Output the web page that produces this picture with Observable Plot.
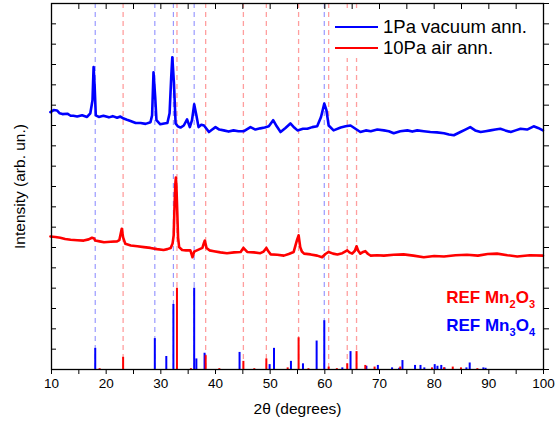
<!DOCTYPE html>
<html><head><meta charset="utf-8">
<script src="https://cdn.jsdelivr.net/npm/d3@7"></script>
<script src="https://cdn.jsdelivr.net/npm/@observablehq/plot@0.6"></script>
<style>
body{margin:0;background:#fff;font-family:"Liberation Sans",Arial,sans-serif}
#wrap{position:relative;width:558px;height:425px;overflow:hidden}
#legend{position:absolute;left:332px;top:12px;width:208px;height:46px;background:#fff}
.row{position:absolute;left:0;height:22px;line-height:22px;font-size:18.5px;white-space:nowrap;color:#000}
.row .sw{position:absolute;left:3px;top:10px;width:43px;height:2px}
.row .tx{position:absolute;left:51px;top:0}
.ref{position:absolute;right:23px;font-weight:bold;font-size:17px;line-height:20px;white-space:nowrap}
.ref sub{font-size:11px;vertical-align:-5px;line-height:0}
</style></head><body><div id="wrap"></div>
<script>
// 1Pa vacuum annealed pattern (2θ in degrees, intensity arb. units)
const blueT = [9.8,10.4,11.0,11.5,12.0,12.9,13.5,14.0,14.7,15.6,16.5,17.1,17.5,17.7,17.9,18.1,18.65,19.5,20.5,21.2,22.0,22.6,23.2,23.8,24.45,25.4,26.3,27.2,28.1,28.4,28.66,28.97,29.2,29.9,30.6,31.2,31.6,31.9,32.1,32.4,32.7,33.1,33.6,34.2,34.8,35.3,35.7,36.1,36.5,36.9,37.4,37.9,38.8,39.4,40.0,40.7,41.5,42.4,43.3,44.2,45.2,46.4,47.3,48.2,49.0,49.75,50.55,51.2,51.9,52.8,53.7,54.4,55.0,56.0,56.8,57.7,58.6,59.3,59.9,60.3,60.7,61.6,62.9,63.8,64.7,65.6,66.5,67.5,68.4,69.6,70.8,71.7,72.6,73.8,75.1,76.0,76.9,78.1,79.3,80.5,81.8,82.7,83.6,84.8,85.7,86.6,87.5,88.5,89.4,90.3,91.2,92.1,93.0,94.0,94.9,95.8,97.0,98.2,99.0,99.9];
const blueV = [633,638,637,630,628,629,624,624,622,625,621,630,662,744,694,625,621,624,620,623,619,622,617,614,611,606,606,604,608,625,731,670,613,603,605,606,630,719,768,704,605,598,595,600,615,596,613,652,625,596,602,600,584,590,596,590,588,585,588,586,586,596,590,593,595,598,613,598,584,594,605,595,588,592,592,596,598,621,654,637,600,588,595,598,600,592,584,588,586,590,588,586,581,586,588,585,588,586,584,583,581,578,576,584,590,596,588,584,586,588,590,592,588,584,588,592,590,598,594,588];
// 10Pa air annealed pattern
const redT = [9.8,10.7,11.6,12.5,13.5,14.7,15.9,16.8,17.4,17.8,18.0,18.8,19.6,20.8,22.0,22.4,22.6,22.85,23.1,23.5,24.5,25.7,26.9,28.1,29.3,30.5,31.2,31.8,32.15,32.35,32.5,32.65,32.75,32.85,33.0,33.15,33.35,33.9,34.6,35.4,35.8,36.1,36.6,37.1,37.6,37.9,38.05,38.35,38.9,39.7,40.9,42.1,43.4,44.6,45.1,45.8,47.0,48.2,48.8,49.3,49.7,50.1,51.3,52.5,53.4,54.3,54.9,55.2,55.5,55.8,56.2,57.4,58.6,59.5,60.1,60.7,61.5,62.3,63.2,64.1,64.5,65.0,65.5,65.8,66.1,66.5,67.0,67.4,67.9,68.4,69.6,70.8,72.6,74.4,76.2,78.1,80.0,81.8,83.9,86.0,88.0,89.8,91.5,93.4,95.2,97.5,99.9];
const redV = [327,326,324,321,319,318,317,320,324,322,317,315,313,314,315,318,330,346,325,309,305,303,301,299,296,294,296,299,310,330,400,455,472,450,390,325,301,294,293,293,276,290,293,296,299,312,317,299,293,291,288,286,288,289,299,289,288,286,290,299,290,283,282,280,284,289,318,330,301,290,285,283,280,276,284,289,285,283,286,293,288,285,292,303,292,285,289,291,284,280,281,280,282,283,280,276,279,278,281,282,280,284,285,281,278,281,280];
// Reference patterns (relative intensity, %)
const refMn3O4Pos = [18.0,28.9,31.0,32.3,36.1,36.5,38.0,44.4,49.9,50.7,53.8,56.0,58.5,59.9,63.2,64.7,67.6,69.7,72.3,73.6,74.2,76.5,77.5,78.2,80.1,80.6,81.3,81.9,85.9,86.5,89.0,89.4];
const refMn3O4Int = [26,38,16,80,100,13,20,21,6,26,10,7,35,60,2,22,4,5,2,1.5,11,5,5,2,6,4,5,2,2,8,2,1.5];
const refMn2O3Pos = [18.8,23.1,32.95,35.5,38.2,40.7,45.1,47.1,49.3,53.2,55.2,57.0,60.7,62.2,64.1,65.8,67.4,69.1,73.8,79.6,81.8,83.4,84.9,87.9];
const refMn2O3Int = [1,15,100,1,17,1,10,1,13,2,39,1,3,1,7,22,5,3,3,2,2,3,2,1];
// Guide lines at main reflections
const dashMn3O4 = [18.0,28.9,32.3,36.1,59.9];
const dashMn2O3 = [23.1,32.95,38.2,45.1,49.3,55.2,60.7,64.1,65.8];
const xTicks = d3.range(10,101,5);
const yTicks = d3.range(0,901,50);

const blue = blueT.map((t,i)=>({t, v: blueV[i]}));
const red = redT.map((t,i)=>({t, v: redV[i]}));
const ref3 = refMn3O4Pos.map((t,i)=>({t, v: refMn3O4Int[i]*2}));
const ref2 = refMn2O3Pos.map((t,i)=>({t, v: refMn2O3Int[i]*2}));

const plot = Plot.plot({
  width:558, height:425,
  marginLeft:51, marginRight:15, marginTop:3, marginBottom:56,
  style:{fontFamily:"Liberation Sans, Arial, sans-serif", fontSize:"13.5px", color:"#000", background:"#fff"},
  x:{domain:[10,100], label:null},
  y:{domain:[0,900], label:null},
  marks:[
    Plot.ruleX(dashMn3O4, {stroke:"#0000ff", strokeOpacity:0.4, strokeWidth:1.2, strokeDasharray:"5,4"}),
    Plot.ruleX(dashMn2O3, {stroke:"#ff0000", strokeOpacity:0.38, strokeWidth:1.3, strokeDasharray:"5,4"}),
    Plot.ruleX(ref3, {x:"t", y1:0, y2:"v", stroke:"#0000ff", strokeWidth:2}),
    Plot.ruleX(ref2, {x:"t", y1:0, y2:"v", stroke:"#ff0000", strokeWidth:2}),
    Plot.line(red, {x:"t", y:"v", stroke:"#ff0000", strokeWidth:2.6}),
    Plot.line(blue, {x:"t", y:"v", stroke:"#0000ff", strokeWidth:2.6}),
    Plot.frame({stroke:"#000", strokeWidth:1.3}),
    Plot.axisX({anchor:"bottom", ticks:xTicks, tickSize:5, tickPadding:4, tickFormat:d => d % 10 === 0 ? d : "", label:null}),
    Plot.axisX({anchor:"top", ticks:xTicks, tickSize:-5, tickFormat:() => "", label:null}),
    Plot.axisY({anchor:"left", ticks:yTicks, tickSize:-5, tickFormat:() => "", label:null}),
    Plot.axisY({anchor:"right", ticks:yTicks, tickSize:5, tickFormat:() => "", label:null}),
    Plot.text(["2θ (degrees)"], {frameAnchor:"bottom", dy:44, fontSize:15.5, fill:"#000"}),
    Plot.text(["Intensity (arb. un.)"], {frameAnchor:"left", textAnchor:"middle", rotate:-90, dx:-31, fontSize:15.5, fill:"#000"})
  ]
});
const wrap = document.getElementById("wrap");
wrap.appendChild(plot);

const legend = document.createElement("div");
legend.id = "legend";
legend.innerHTML =
  '<div class="row" style="top:4px;width:208px"><span class="sw" style="background:#0000ff"></span><span class="tx">1Pa vacuum ann.</span></div>' +
  '<div class="row" style="top:25px;width:208px"><span class="sw" style="background:#ff0000"></span><span class="tx">10Pa air ann.</span></div>';
wrap.appendChild(legend);

const r1 = document.createElement("div");
r1.className = "ref"; r1.style.top = "288px"; r1.style.color = "#ff0000";
r1.innerHTML = "REF Mn<sub>2</sub>O<sub>3</sub>";
wrap.appendChild(r1);
const r2 = document.createElement("div");
r2.className = "ref"; r2.style.top = "316px"; r2.style.color = "#0000ff";
r2.innerHTML = "REF Mn<sub>3</sub>O<sub>4</sub>";
wrap.appendChild(r2);
</script></body></html>
